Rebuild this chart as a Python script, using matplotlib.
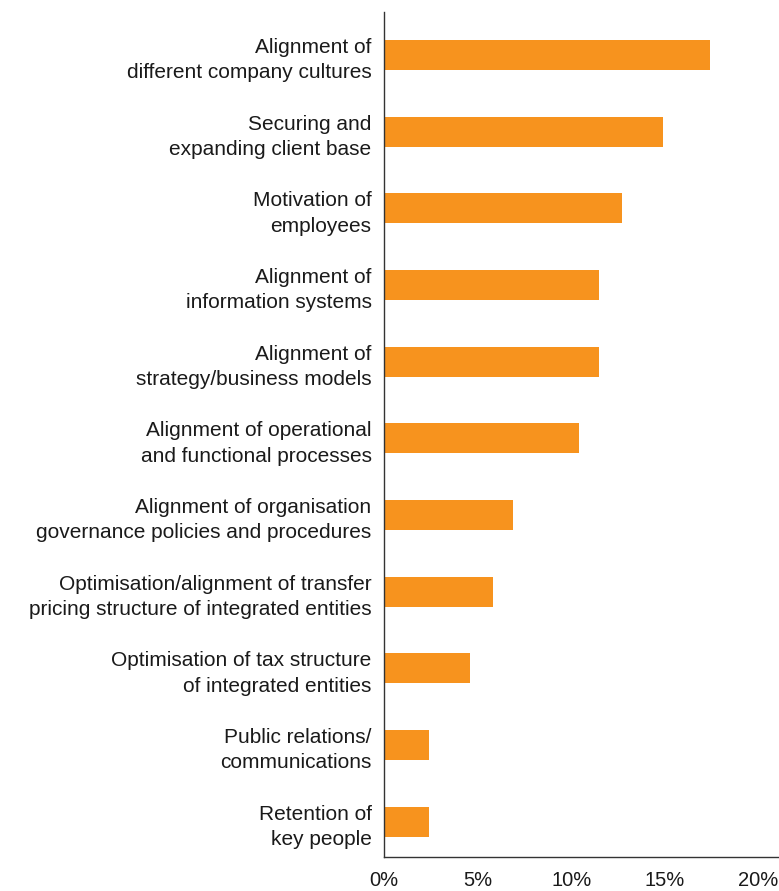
import matplotlib
matplotlib.use("Agg")
import matplotlib.pyplot as plt
from matplotlib.ticker import FuncFormatter

# 整合过程中的主要挑战 (受访者占比, %)
categories = [
    "Alignment of\ndifferent company cultures",
    "Securing and\nexpanding client base",
    "Motivation of\nemployees",
    "Alignment of\ninformation systems",
    "Alignment of\nstrategy/business models",
    "Alignment of operational\nand functional processes",
    "Alignment of organisation\ngovernance policies and procedures",
    "Optimisation/alignment of transfer\npricing structure of integrated entities",
    "Optimisation of tax structure\nof integrated entities",
    "Public relations/\ncommunications",
    "Retention of\nkey people",
]
values = [17.4, 14.9, 12.7, 11.5, 11.5, 10.4, 6.9, 5.8, 4.6, 2.4, 2.4]
xticks = [0, 5, 10, 15, 20]

plt.rcParams["font.family"] = ["Liberation Sans", "DejaVu Sans"]

fig = plt.figure(figsize=(7.79, 8.91), dpi=100)
ax = fig.add_axes([0.493, 0.0382, 0.507, 0.9483])

pos = list(range(len(categories)))
ax.barh(pos, values, height=0.39, color="#F7931E")

ax.set_ylim(len(categories) - 0.54, -0.56)
ax.set_xlim(0, 21.1)

ax.set_yticks(pos)
ax.set_yticklabels(categories, fontsize=15, color="#1a1a1a", linespacing=1.42)
ax.set_xticks(xticks)
ax.xaxis.set_major_formatter(FuncFormatter(lambda v, _: f"{v:.0f}%"))
ax.tick_params(axis="x", length=0, pad=10, labelsize=14.5, labelcolor="#1a1a1a")
ax.tick_params(axis="y", length=0, pad=9)

for side in ("top", "right"):
    ax.spines[side].set_visible(False)
for side in ("left", "bottom"):
    ax.spines[side].set_color("#333333")
    ax.spines[side].set_linewidth(1.0)

fig.savefig("out.png", dpi=100)
